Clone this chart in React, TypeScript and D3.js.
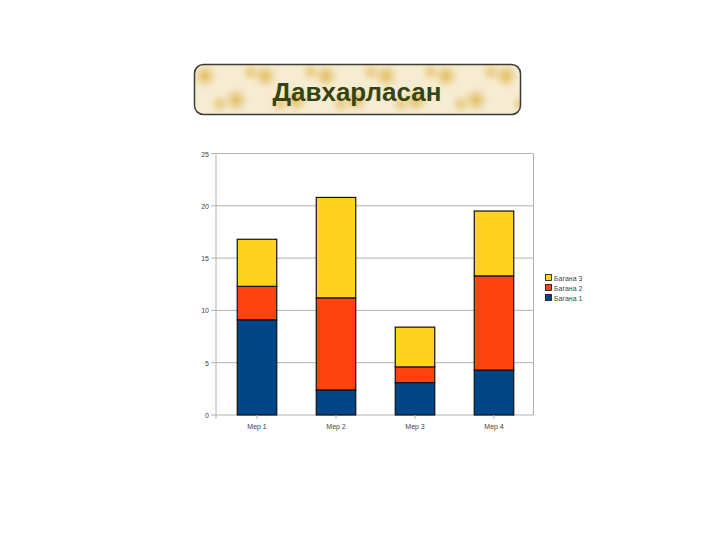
import React from "react";
import * as d3 from "d3";

const categories = ["Мер 1", "Мер 2", "Мер 3", "Мер 4"];
const seriesNames = ["Багана 1", "Багана 2", "Багана 3"];
const series1 = [9.1, 2.4, 3.1, 4.3];
const series2 = [3.2, 8.8, 1.5, 9.0];
const series3 = [4.5, 9.6, 3.8, 6.2];
const yTicks = [0, 5, 10, 15, 20, 25];
const colors = ["#004586", "#ff420e", "#ffd320"];
const title = "Давхарласан";

const W = 728;
const H = 546;
const plot = { left: 216, right: 533.5, top: 153.5, bottom: 415 };

export default function App() {
  const rows = categories.map((c, i) => ({
    cat: c,
    s0: series1[i],
    s1: series2[i],
    s2: series3[i],
  }));
  const stack = d3.stack<any>().keys(["s0", "s1", "s2"]);
  const stacked = stack(rows);
  const x = d3.scaleBand<string>().domain(categories).range([217.5, 533.5]).paddingInner(0.5).paddingOuter(0.25);
  const y = d3.scaleLinear().domain([0, 25]).range([plot.bottom, plot.top]);

  const spots: { cx: number; cy: number; r: number; o: number }[] = [];
  const spotXs = [205, 236, 265, 296, 326, 356, 386, 416, 446, 476, 506];
  spotXs.forEach((sx, i) => {
    spots.push({ cx: sx, cy: i % 2 === 0 ? 76 : 100, r: 14, o: 1 });
    spots.push({ cx: sx + 15, cy: i % 2 === 0 ? 104 : 72, r: 11, o: 0.8 });
  });

  return (
    <svg width={W} height={H} style={{ position: "absolute", left: 0, top: 0, background: "#fff" }}>
      <defs>
        <radialGradient id="spot">
          <stop offset="0%" stopColor="#deaf42" stopOpacity={0.95} />
          <stop offset="50%" stopColor="#e8c878" stopOpacity={0.6} />
          <stop offset="100%" stopColor="#f6ecd0" stopOpacity={0} />
        </radialGradient>
        <filter id="blur" x="-50%" y="-50%" width="200%" height="200%">
          <feGaussianBlur stdDeviation={2.5} />
        </filter>
        <clipPath id="bannerClip">
          <rect x={194.5} y={64.5} width={326} height={50} rx={9} />
        </clipPath>
      </defs>
      <g clipPath="url(#bannerClip)">
        <rect x={194.5} y={64.5} width={326} height={50} fill="#f5ecd2" />
        <g filter="url(#blur)">
          {spots.map((s, i) => (
            <circle key={i} cx={s.cx} cy={s.cy} r={s.r} fill="url(#spot)" opacity={s.o} />
          ))}
        </g>
      </g>
      <rect x={194.5} y={64.5} width={326} height={50} rx={9} fill="none" stroke="#3b3b33" strokeWidth={1.5} />
      <text x={357} y={101} textAnchor="middle" fontFamily="Liberation Sans, Arial, sans-serif" fontWeight="bold" fontSize={26} fill="#364312">
        {title}
      </text>

      {yTicks.map((t) => (
        <g key={t}>
          <line x1={plot.left - 5} x2={plot.right} y1={y(t)} y2={y(t)} stroke="#b3b3b3" strokeWidth={1} />
          <text x={plot.left - 7} y={y(t) + 3} textAnchor="end" fontFamily="Liberation Sans, Arial, sans-serif" fontSize={7} fill="#444">
            {t}
          </text>
        </g>
      ))}
      <line x1={plot.left} x2={plot.left} y1={plot.top} y2={plot.bottom + 4} stroke="#b3b3b3" />
      <line x1={plot.right} x2={plot.right} y1={plot.top} y2={plot.bottom} stroke="#b3b3b3" />

      {stacked.map((layer, li) => (
        <g key={li}>
          {layer.map((d, i) => (
            <rect
              key={i}
              x={x(categories[i])!}
              width={x.bandwidth()}
              y={y(d[1])}
              height={y(d[0]) - y(d[1])}
              fill={colors[li]}
              stroke="#111"
              strokeWidth={1.2}
            />
          ))}
        </g>
      ))}

      {categories.map((c) => (
        <g key={c}>
          <line x1={x(c)! + x.bandwidth() / 2} x2={x(c)! + x.bandwidth() / 2} y1={plot.bottom} y2={plot.bottom + 4} stroke="#b3b3b3" />
          <text x={x(c)! + x.bandwidth() / 2} y={plot.bottom + 13.5} textAnchor="middle" fontFamily="Liberation Sans, Arial, sans-serif" fontSize={7} fill="#444">
            {c}
          </text>
        </g>
      ))}

      {[2, 1, 0].map((si, k) => (
        <g key={si}>
          <rect x={545.5} y={274.5 + k * 10} width={6} height={6} fill={colors[si]} stroke="#111" strokeWidth={0.8} />
          <text x={554} y={280.5 + k * 10} fontFamily="Liberation Sans, Arial, sans-serif" fontSize={7} fill="#444">
            {seriesNames[si]}
          </text>
        </g>
      ))}
    </svg>
  );
}
